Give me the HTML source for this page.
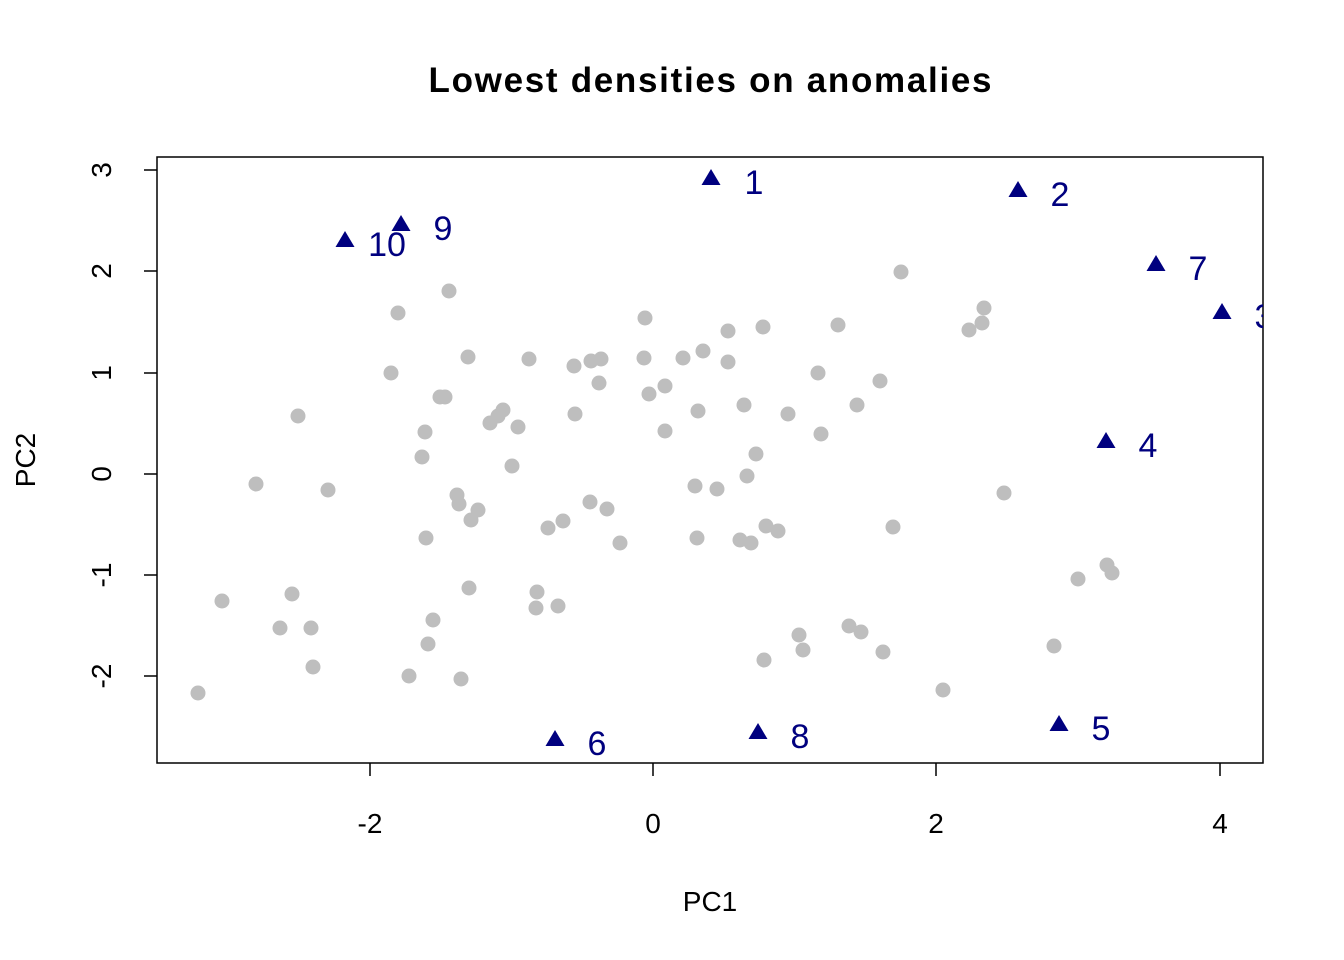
<!DOCTYPE html>
<html><head><style>body{margin:0;background:#fff}svg{display:block}</style></head><body>
<svg width="1344" height="960" xmlns="http://www.w3.org/2000/svg" font-family="Liberation Sans, Arial, sans-serif">
<defs><clipPath id="c"><rect x="157" y="157" width="1106" height="606"/></clipPath></defs>
<text x="710" y="92" font-size="35" font-weight="bold" text-anchor="middle" textLength="563">Lowest densities on anomalies</text>
<rect x="157" y="157" width="1106" height="606" fill="none" stroke="#000" stroke-width="1.5"/>
<g stroke="#000" stroke-width="1.5">
<line x1="370" y1="763" x2="370" y2="776"/><line x1="653" y1="763" x2="653" y2="776"/><line x1="936" y1="763" x2="936" y2="776"/><line x1="1220" y1="763" x2="1220" y2="776"/>
<line x1="144" y1="170" x2="157" y2="170"/><line x1="144" y1="271" x2="157" y2="271"/><line x1="144" y1="373" x2="157" y2="373"/><line x1="144" y1="474" x2="157" y2="474"/><line x1="144" y1="575" x2="157" y2="575"/><line x1="144" y1="676" x2="157" y2="676"/>
</g>
<g font-size="28" text-anchor="middle">
<text x="370" y="833">-2</text><text x="653" y="833">0</text><text x="936" y="833">2</text><text x="1220" y="833">4</text>
<text x="710" y="911">PC1</text>
<text transform="translate(111,170) rotate(-90)">3</text><text transform="translate(111,271) rotate(-90)">2</text><text transform="translate(111,373) rotate(-90)">1</text><text transform="translate(111,474) rotate(-90)">0</text><text transform="translate(111,575) rotate(-90)">-1</text><text transform="translate(111,676) rotate(-90)">-2</text>
<text transform="translate(35,460) rotate(-90)">PC2</text>
</g>
<g fill="#bebebe">
<circle cx="901" cy="272" r="7.5"/><circle cx="984" cy="308" r="7.5"/><circle cx="982" cy="323" r="7.5"/><circle cx="969" cy="330" r="7.5"/><circle cx="449" cy="291" r="7.5"/><circle cx="398" cy="313" r="7.5"/><circle cx="645" cy="318" r="7.5"/><circle cx="728" cy="331" r="7.5"/><circle cx="763" cy="327" r="7.5"/><circle cx="838" cy="325" r="7.5"/><circle cx="468" cy="357" r="7.5"/><circle cx="529" cy="359" r="7.5"/><circle cx="574" cy="366" r="7.5"/><circle cx="591" cy="361" r="7.5"/><circle cx="601" cy="359" r="7.5"/><circle cx="644" cy="358" r="7.5"/><circle cx="683" cy="358" r="7.5"/><circle cx="703" cy="351" r="7.5"/><circle cx="728" cy="362" r="7.5"/><circle cx="391" cy="373" r="7.5"/><circle cx="818" cy="373" r="7.5"/><circle cx="880" cy="381" r="7.5"/><circle cx="599" cy="383" r="7.5"/><circle cx="665" cy="386" r="7.5"/><circle cx="649" cy="394" r="7.5"/><circle cx="445" cy="397" r="7.5"/><circle cx="440" cy="397" r="7.5"/><circle cx="298" cy="416" r="7.5"/><circle cx="503" cy="410" r="7.5"/><circle cx="498" cy="416" r="7.5"/><circle cx="490" cy="423" r="7.5"/><circle cx="518" cy="427" r="7.5"/><circle cx="575" cy="414" r="7.5"/><circle cx="698" cy="411" r="7.5"/><circle cx="744" cy="405" r="7.5"/><circle cx="788" cy="414" r="7.5"/><circle cx="857" cy="405" r="7.5"/><circle cx="425" cy="432" r="7.5"/><circle cx="665" cy="431" r="7.5"/><circle cx="821" cy="434" r="7.5"/><circle cx="756" cy="454" r="7.5"/><circle cx="422" cy="457" r="7.5"/><circle cx="512" cy="466" r="7.5"/><circle cx="256" cy="484" r="7.5"/><circle cx="328" cy="490" r="7.5"/><circle cx="695" cy="486" r="7.5"/><circle cx="717" cy="489" r="7.5"/><circle cx="1004" cy="493" r="7.5"/><circle cx="457" cy="495" r="7.5"/><circle cx="459" cy="504" r="7.5"/><circle cx="478" cy="510" r="7.5"/><circle cx="471" cy="520" r="7.5"/><circle cx="590" cy="502" r="7.5"/><circle cx="607" cy="509" r="7.5"/><circle cx="747" cy="476" r="7.5"/><circle cx="548" cy="528" r="7.5"/><circle cx="563" cy="521" r="7.5"/><circle cx="766" cy="526" r="7.5"/><circle cx="778" cy="531" r="7.5"/><circle cx="893" cy="527" r="7.5"/><circle cx="426" cy="538" r="7.5"/><circle cx="697" cy="538" r="7.5"/><circle cx="740" cy="540" r="7.5"/><circle cx="751" cy="543" r="7.5"/><circle cx="620" cy="543" r="7.5"/><circle cx="1107" cy="565" r="7.5"/><circle cx="1112" cy="573" r="7.5"/><circle cx="1078" cy="579" r="7.5"/><circle cx="222" cy="601" r="7.5"/><circle cx="292" cy="594" r="7.5"/><circle cx="469" cy="588" r="7.5"/><circle cx="537" cy="592" r="7.5"/><circle cx="536" cy="608" r="7.5"/><circle cx="558" cy="606" r="7.5"/><circle cx="433" cy="620" r="7.5"/><circle cx="280" cy="628" r="7.5"/><circle cx="311" cy="628" r="7.5"/><circle cx="849" cy="626" r="7.5"/><circle cx="861" cy="632" r="7.5"/><circle cx="799" cy="635" r="7.5"/><circle cx="428" cy="644" r="7.5"/><circle cx="803" cy="650" r="7.5"/><circle cx="883" cy="652" r="7.5"/><circle cx="1054" cy="646" r="7.5"/><circle cx="764" cy="660" r="7.5"/><circle cx="313" cy="667" r="7.5"/><circle cx="409" cy="676" r="7.5"/><circle cx="461" cy="679" r="7.5"/><circle cx="943" cy="690" r="7.5"/><circle cx="198" cy="693" r="7.5"/>
</g>
<g fill="#00007f" clip-path="url(#c)" font-size="34" text-anchor="middle">
<polygon points="711,169 720.5,185 701.5,185"/><text x="754" y="194">1</text>
<polygon points="1018,181 1027.5,197 1008.5,197"/><text x="1060" y="206">2</text>
<polygon points="1222,303 1231.5,319 1212.5,319"/><text x="1264" y="328">3</text>
<polygon points="1106,432 1115.5,448 1096.5,448"/><text x="1148" y="457">4</text>
<polygon points="1059,715 1068.5,731 1049.5,731"/><text x="1101" y="740">5</text>
<polygon points="555,730 564.5,746 545.5,746"/><text x="597" y="755">6</text>
<polygon points="1156,255 1165.5,271 1146.5,271"/><text x="1198" y="280">7</text>
<polygon points="758,723 767.5,739 748.5,739"/><text x="800" y="748">8</text>
<polygon points="401,215 410.5,231 391.5,231"/><text x="443" y="240">9</text>
<polygon points="345,231 354.5,247 335.5,247"/><text x="387" y="256">10</text>
</g>
</svg>
</body></html>
